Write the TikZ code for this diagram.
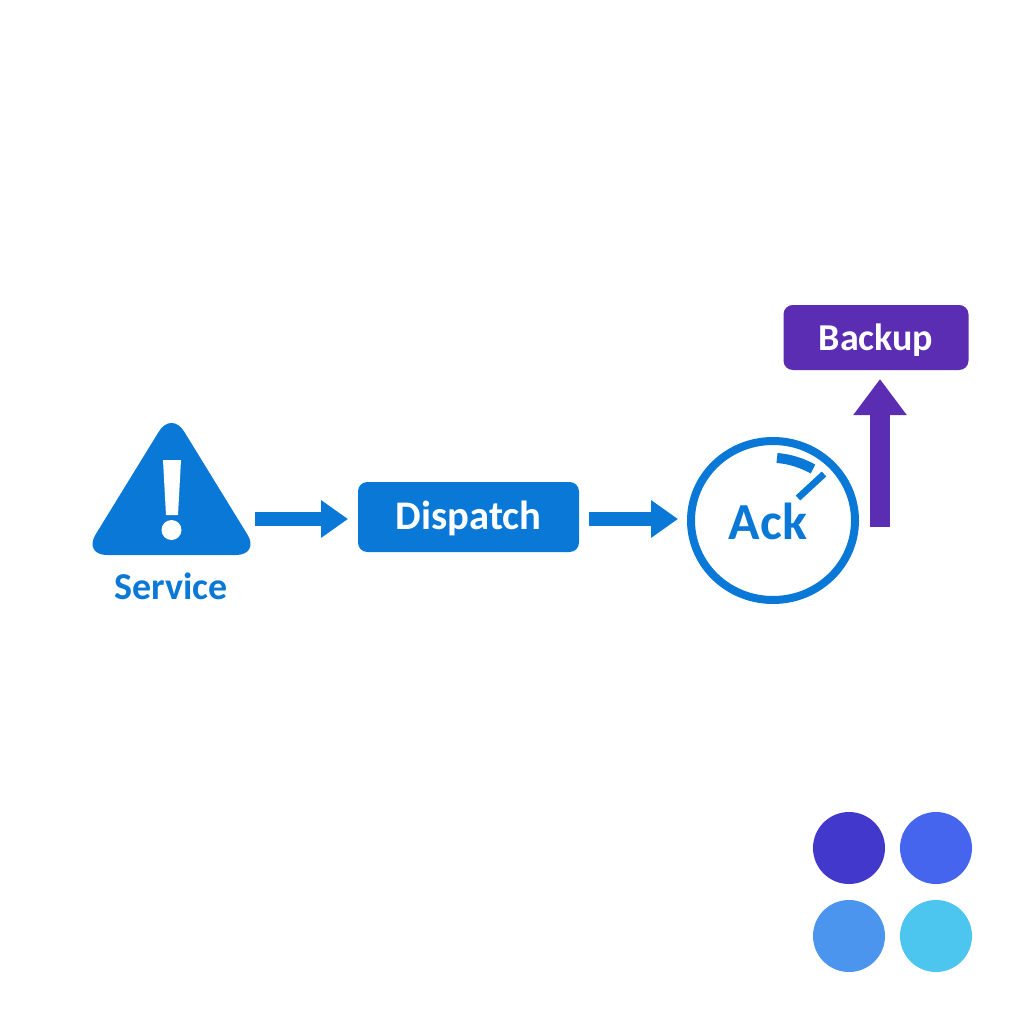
\documentclass[tikz,border=0pt]{standalone}
\usepackage{fontspec}
\setmainfont{Carlito}[BoldFont={Carlito Bold}]
\usetikzlibrary{arrows.meta}
\definecolor{azure}{HTML}{0A78D6}
\definecolor{violet}{HTML}{5A2DB2}
\tikzset{
  flowarrow/.style={line width=10.5pt,-{Triangle[length=20.25pt,width=27pt]}},
  boxnode/.style={rounded corners=7pt,text=white,align=center,inner sep=0pt,text height=19pt,text depth=0pt},
  dotnode/.style={circle,minimum size=54pt,inner sep=0pt},
}
\begin{document}
\begin{tikzpicture}[x=0.75pt,y=0.75pt,yscale=-1]
\useasboundingbox (0,0) rectangle (1024,1024);

% Service triangle
\fill [azure,rounded corners=18pt] (83,555) -- (171.5,411) -- (260,555) -- cycle;
\fill [white] (163,460) -- (181,460) -- (178,515) -- (166,515) -- cycle;
\fill [white] (171.5,530) circle [radius=10];
\node (service) [text=azure,font=\bfseries\fontsize{28.5}{28.5}\selectfont] at (171,586) {Service};
\coordinate (serviceout) at (255,519);

% Boxes
\node (dispatch) [boxnode,fill=azure,minimum width=165.75pt,minimum height=52.5pt,font=\bfseries\fontsize{30.5}{30.5}\selectfont] at (468.5,517) {Dispatch};
\node (backup) [boxnode,fill=violet,minimum width=138.75pt,minimum height=48.75pt,font=\bfseries\fontsize{28.5}{28.5}\selectfont] at (876,337.5) {Backup};

% Ack dial
\draw [azure,line width=6pt] (773,520.5) circle [x radius=82, y radius=79.5];
\node (ack) [text=azure,font=\bfseries\fontsize{39}{39}\selectfont] at (768,521) {Ack};
\draw [azure,line width=7.5pt] (777,458) .. controls (790,459) and (802,463) .. (813,469);
\draw [azure,line width=5pt] (824,474) -- (798,498);

% Arrows
\coordinate (dispatchin) at (348,519);
\coordinate (dispatchout) at (589,519);
\coordinate (ackin) at (678,519);
\coordinate (ackout) at (880,527);
\coordinate (backupin) at (880,379);
\draw [flowarrow,azure] (serviceout) -- (dispatchin);
\draw [flowarrow,azure] (dispatchout) -- (ackin);
\draw [flowarrow,violet,line width=15pt,-{Triangle[length=27pt,width=38.25pt]}] (ackout) -- (backupin);

% Colour dots
\node (dotone) [dotnode,fill={rgb,255:red,67;green,56;blue,204}] at (849,848) {};
\node (dottwo) [dotnode,fill={rgb,255:red,70;green,101;blue,238}] at (936,848) {};
\node (dotthree) [dotnode,fill={rgb,255:red,76;green,149;blue,238}] at (849,936) {};
\node (dotfour) [dotnode,fill={rgb,255:red,76;green,198;blue,238}] at (936,936) {};

\end{tikzpicture}
\end{document}
